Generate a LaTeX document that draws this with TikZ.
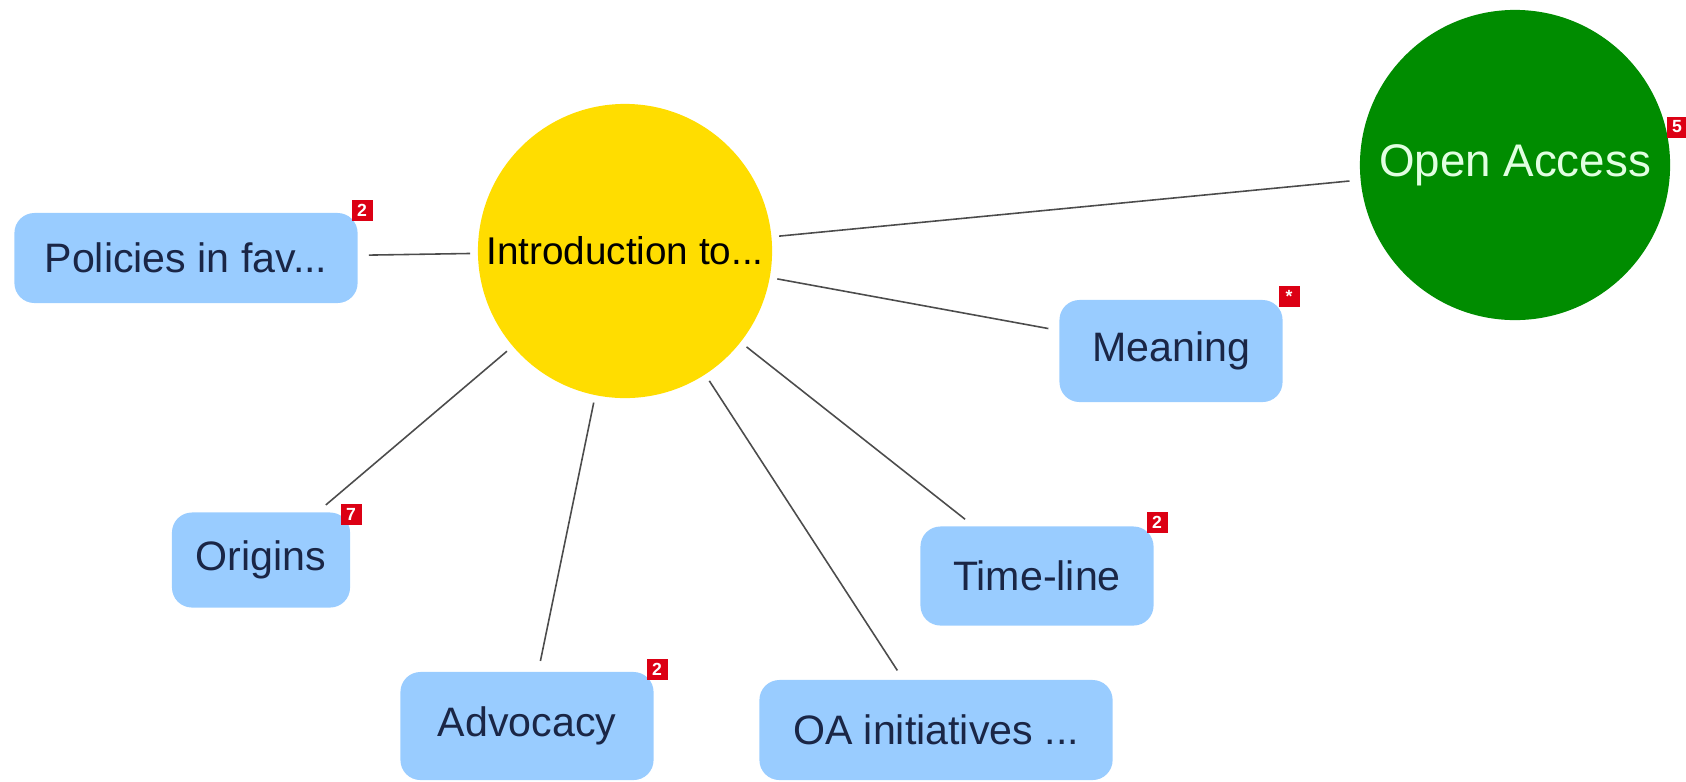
\documentclass[tikz,border=0pt]{standalone}
\usepackage{fontspec}
\setmainfont{Liberation Sans}
\definecolor{topicblue}{RGB}{153,204,255}
\definecolor{topicink}{RGB}{26,38,70}
\definecolor{centreyellow}{RGB}{255,221,0}
\definecolor{rootgreen}{RGB}{0,140,0}
\definecolor{rootink}{RGB}{225,255,225}
\definecolor{badgered}{RGB}{220,0,20}
\tikzset{
  topic/.style={draw=none, fill=topicblue, rounded corners=0.2cm, inner sep=0pt,
    text=topicink, font=\fontsize{11.7pt}{14pt}\selectfont},
  hub/.style={circle, draw=none, fill=centreyellow, inner sep=0pt, minimum size=2.94cm,
    font=\fontsize{11pt}{13pt}\selectfont},
  root/.style={circle, draw=none, fill=rootgreen, inner sep=0pt, minimum size=3.10cm,
    text=rootink, font=\fontsize{13pt}{15pt}\selectfont},
  badge/.style={fill=badgered, text=white, inner sep=0pt, minimum size=0.21cm,
    font=\fontsize{5pt}{5pt}\selectfont\bfseries},
  link/.style={draw=black!70, line width=0.45pt, shorten <=2pt, shorten >=3pt}
}

\begin{document}
\begin{tikzpicture}[x=0.01cm, y=-0.01cm]
\useasboundingbox (0,0) rectangle (1686,781);
% centre and root
\node[hub] (intro) at (625,251) {Introduction to...};
\node[root] (oa) at (1515,165) {Open Access};
% topics
\node[topic, minimum width=3.43cm, minimum height=0.90cm] (pol) at (186,258) {Policies in fav...};
\node[topic, minimum width=2.23cm, minimum height=1.02cm] (mea) at (1171,351) {Meaning};
\node[topic, minimum width=1.78cm, minimum height=0.95cm] (ori) at (261,560) {Origins};
\node[topic, minimum width=2.53cm, minimum height=1.08cm] (adv) at (527,726) {Advocacy};
\node[topic, minimum width=3.53cm, minimum height=1.00cm] (init) at (936,730) {OA initiatives ...};
\node[topic, minimum width=2.33cm, minimum height=0.99cm] (tl) at (1037,576) {Time-line};
% links
\foreach \t in {oa,pol,mea,ori,adv,init,tl}
  \draw[link] (intro) -- (\t);
% badges
\node[badge] (oaB) at (1677,127) {5};
\node[badge] (polB) at (362,210) {2};
\node[badge] (meaB) at (1289,296) {*};
\node[badge] (oriB) at (351,514) {7};
\node[badge] (advB) at (657,669) {2};
\node[badge] (tlB) at (1157,522) {2};
\end{tikzpicture}
\end{document}
